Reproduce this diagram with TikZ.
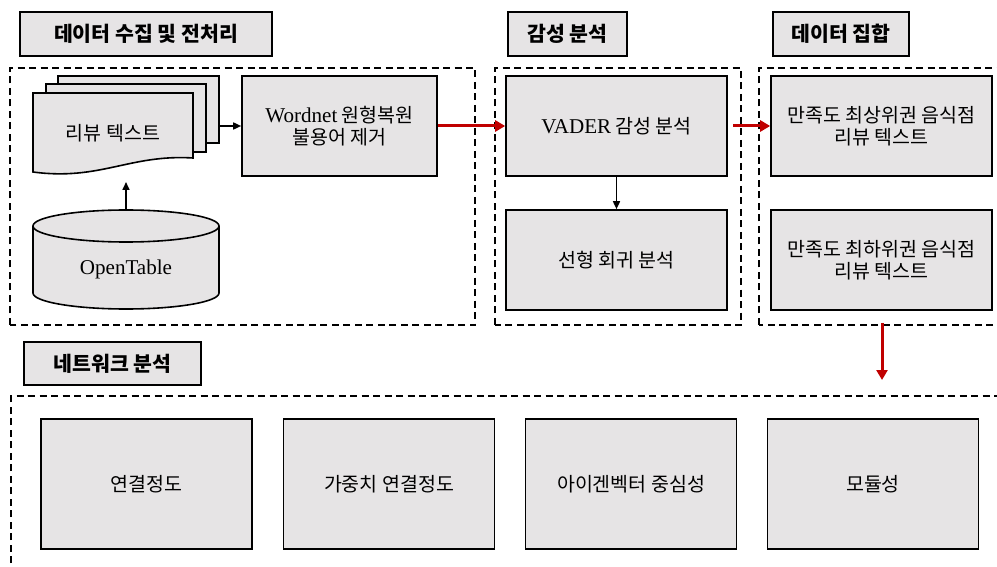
\documentclass[tikz,border=0pt]{standalone}
\usepackage{fontspec}
\setmainfont{Noto Sans CJK KR}
\newfontfamily\latin{Liberation Serif}[Scale=1.08]
\usetikzlibrary{arrows.meta}
\definecolor{boxgray}{RGB}{230,228,229}
\definecolor{darkred}{RGB}{192,0,0}
\tikzset{
  box/.style={draw=black, line width=1.6pt, fill=boxgray, align=center, inner sep=2pt,
    font=\fontsize{19.5}{22}\selectfont},
  titlebox/.style={draw=black, line width=1.6pt, fill=boxgray, align=center,
    font=\fontsize{20.5}{24}\selectfont\bfseries},
  groupbox/.style={draw=black, line width=1.6pt, dash pattern=on 7pt off 4.5pt},
  blackarrow/.style={-{Triangle[length=8pt,width=7pt]}, line width=1.6pt},
  redarrow/.style={-{Triangle[length=10pt,width=11pt]}, line width=3pt, draw=darkred, fill=darkred},
}
\begin{document}
\begin{tikzpicture}[x=1pt,y=1pt]
\useasboundingbox (0,0) rectangle (997,566);
\clip (0,0) rectangle (997,566);
% title boxes
\node[titlebox, minimum width=252pt, minimum height=44pt] (t1) at (146,532) {데이터 수집 및 전처리};
\node[titlebox, minimum width=119pt, minimum height=44pt] (t2) at (567.5,532) {감성 분석};
\node[titlebox, minimum width=136pt, minimum height=44pt] (t3) at (841,532) {데이터 집합};
\node[titlebox, minimum width=177pt, minimum height=43pt] (t4) at (112.5,202.5) {네트워크 분석};
% group boxes
\draw[groupbox] (10,241) rectangle (475,498);
\draw[groupbox] (495,241) rectangle (741,498);
\draw[groupbox] (759,241) rectangle (1010,498);
\draw[groupbox] (11,-20) rectangle (1010,170);
% document stack
\draw[line width=1.6pt, fill=boxgray] (58,423) rectangle (219,490);
\draw[line width=1.6pt, fill=boxgray] (46,414) rectangle (206,482);
\draw[line width=1.6pt, fill=boxgray] (33,473) -- (193,473) -- (193,408)
   .. controls (130,412) and (100,385) .. (33,394) -- cycle;
\node[font=\fontsize{19.5}{22}\selectfont] (doc) at (113,433) {리뷰 텍스트};
\coordinate (docback) at (219,440);
\coordinate (docbottom) at (126,384);
% cylinder
\draw[line width=1.6pt, fill=boxgray] (33,340) -- (33,273)
   arc[start angle=180, end angle=360, x radius=93, y radius=16] -- (219,340)
   arc[start angle=0, end angle=180, x radius=93, y radius=16] -- cycle;
\draw[line width=1.6pt] (33,340) arc[start angle=180, end angle=360, x radius=93, y radius=16];
\node[font=\fontsize{19.5}{22}\selectfont\latin] (db) at (126,297) {OpenTable};
\coordinate (dbtop) at (126,356);
% process boxes
\node[box, minimum width=195pt, minimum height=100pt] (wn) at (339.5,440) {{\latin Wordnet} 원형복원\\불용어 제거};
\node[box, minimum width=221pt, minimum height=100pt] (vader) at (616.5,440) {{\latin VADER} 감성 분석};
\node[box, minimum width=221pt, minimum height=100pt] (reg) at (616.5,306) {선형 회귀 분석};
\node[box, minimum width=221pt, minimum height=100pt] (top) at (881.5,440) {만족도 최상위권 음식점\\리뷰 텍스트};
\node[box, minimum width=221pt, minimum height=100pt] (low) at (881.5,306) {만족도 최하위권 음식점\\리뷰 텍스트};
% network boxes
\node[box, minimum width=211pt, minimum height=130pt] (n1) at (146.5,82) {연결정도};
\node[box, minimum width=211pt, minimum height=130pt] (n2) at (389,82) {가중치 연결정도};
\node[box, minimum width=211pt, minimum height=130pt] (n3) at (631,82) {아이겐벡터 중심성};
\node[box, minimum width=211pt, minimum height=130pt] (n4) at (873,82) {모듈성};
% connectors
\coordinate (redA) at (733,440);
\coordinate (redB) at (882,243);
\coordinate (redC) at (882,186);
\draw[blackarrow] (dbtop) -- (docbottom);
\draw[blackarrow] (docback) -- (wn.west);
\draw[redarrow] (wn.east) -- (vader.west);
\draw[blackarrow] (vader.south) -- (reg.north);
\draw[redarrow] (redA) -- (top.west);
\draw[redarrow] (redB) -- (redC);
\end{tikzpicture}
\end{document}
